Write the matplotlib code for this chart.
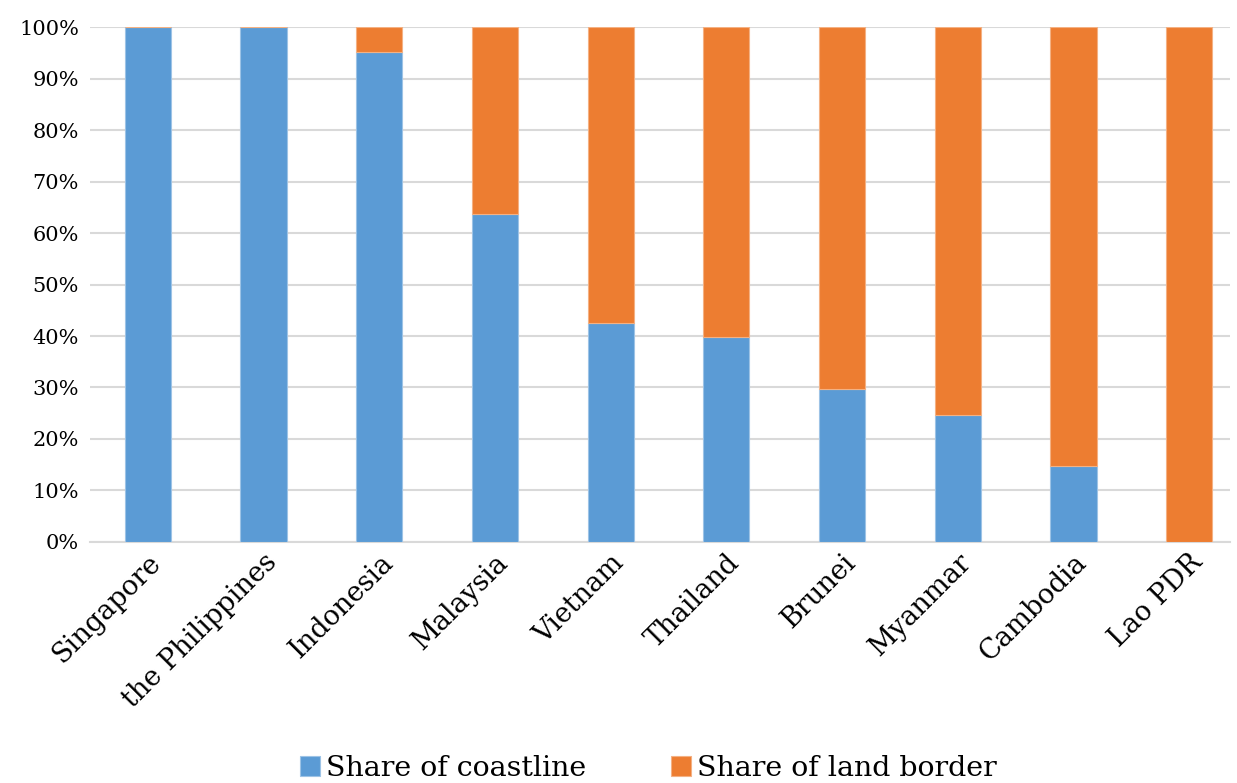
import numpy as np
import matplotlib.pyplot as plt
from matplotlib.ticker import PercentFormatter

countries = ['Singapore', 'the Philippines', 'Indonesia', 'Malaysia', 'Vietnam',
             'Thailand', 'Brunei', 'Myanmar', 'Cambodia', 'Lao PDR']
coastline = [100.0, 100.0, 95.1, 63.7, 42.6, 39.8, 29.7, 24.7, 14.8, 0.0]
land_border = [100 - c for c in coastline]

blue = '#5b9bd5'
orange = '#ed7d31'

plt.rcParams['font.family'] = ['DejaVu Serif']

fig = plt.figure(figsize=(12.37, 7.83), dpi=100)
ax = fig.add_axes([0.0728, 0.3078, 0.9212, 0.6577])

x = np.arange(len(countries))
ax.bar(x, coastline, width=0.4, color=blue, edgecolor='#9dc3e6', linewidth=0.8,
       label='Share of coastline', zorder=3)
ax.bar(x, land_border, width=0.4, bottom=coastline, color=orange,
       edgecolor='#f4b183', linewidth=0.8, label='Share of land border', zorder=3)

ax.set_ylim(0, 100)
ax.set_xlim(-0.5, 9.35)
ax.set_yticks(np.arange(0, 101, 10))
ax.yaxis.set_major_formatter(PercentFormatter(decimals=0))
ax.grid(axis='y', color='#d9d9d9', linewidth=1.5, zorder=0)
ax.set_axisbelow(True)

for s in ['top', 'right', 'left']:
    ax.spines[s].set_visible(False)
ax.spines['bottom'].set_color('#d9d9d9')
ax.spines['bottom'].set_linewidth(1.5)

ax.set_xticks(x)
ax.set_xticklabels(countries, rotation=45, ha='right', va='top',
                   rotation_mode='anchor', fontsize=19.5)
ax.tick_params(axis='x', length=0, pad=5)
ax.tick_params(axis='y', length=0, labelsize=15, pad=8)

ax.legend(loc='lower center', bbox_to_anchor=(0.49, -0.515), ncol=2,
          frameon=False, fontsize=20.5, handlelength=0.7, handleheight=0.7,
          handletextpad=0.2, columnspacing=3.0)

fig.savefig('out.png', dpi=100)
